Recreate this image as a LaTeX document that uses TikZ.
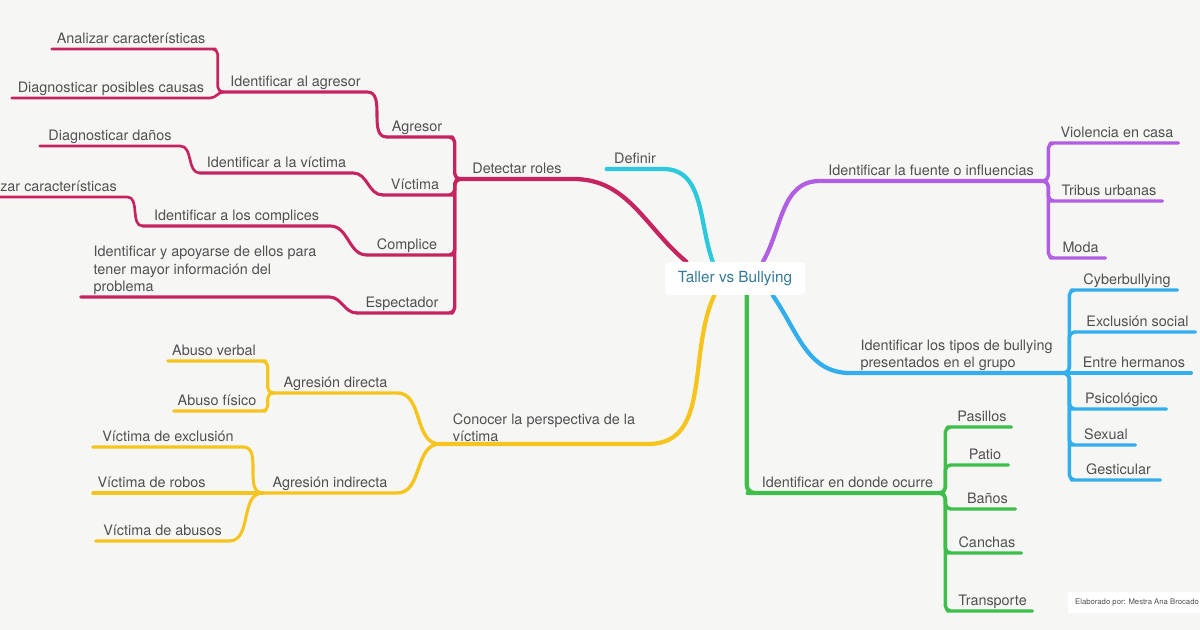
\documentclass[tikz,border=0pt]{standalone}
\usepackage{fontspec}
\setmainfont{TeX Gyre Heros}
\usetikzlibrary{backgrounds}

\definecolor{mmbg}{RGB}{246,247,245}
\definecolor{mmtext}{RGB}{80,80,80}
\definecolor{mmtitle}{RGB}{52,122,152}
\definecolor{mmred}{RGB}{198,36,96}
\definecolor{mmcyan}{RGB}{44,200,220}
\definecolor{mmpurple}{RGB}{178,94,226}
\definecolor{mmblue}{RGB}{50,174,236}
\definecolor{mmgreen}{RGB}{64,190,76}
\definecolor{mmyellow}{RGB}{246,196,30}

\begin{document}
\begin{tikzpicture}[
  x=0.75pt, y=-0.75pt,
  topic/.style = {
    anchor=south, inner xsep=0pt, inner ysep=1.5pt,
    text depth=2.5pt, text=mmtext,
    font=\fontsize{10.8}{13}\selectfont
  },
  lw/.style = {minimum width=#1*0.75pt},
  multi/.style = {topic, text depth={}, align=left},
  root/.style = {
    rectangle, rounded corners=3pt, fill=white,
    minimum width=105pt, minimum height=24.75pt,
    text=mmtitle, font=\fontsize{11.5}{14}\selectfont
  },
  credit/.style = {
    rectangle, fill=white, minimum width=103.5pt, minimum height=15.75pt,
    text=mmtext, font=\fontsize{5.8}{7}\selectfont
  },
  br/.style = {line cap=round, line join=round},
  lv1/.style = {br, line width=3.2pt},
  lv2/.style = {br, line width=2.6pt},
  lv3/.style = {br, line width=2.3pt},
  lv4/.style = {br, line width=2pt},
  fork/.style = {rounded corners=4pt}
]
\useasboundingbox (0,0) rectangle (1200,630);

% Centre
\node[root] (root) at (735,278.5) {Taller vs Bullying};

% Detectar roles
\node[topic, lw=112] (droles) at (517,179) {Detectar roles};
\node[topic, lw=60]  (agr)    at (417,137) {Agresor};
\node[topic, lw=64]  (vic)    at (415,195) {Víctima};
\node[topic, lw=80]  (comp)   at (407,255) {Complice};
\node[topic, lw=90]  (espec)  at (402,313) {Espectador};
\node[topic, lw=143] (idagr)  at (295.5,92) {Identificar al agresor};
\node[topic, lw=158] (analiza) at (131,49) {Analizar características};
\node[topic, lw=198] (diagc)  at (111,98) {Diagnosticar posibles causas};
\node[topic, lw=153] (idvic)  at (276.5,173) {Identificar a la víctima};
\node[topic, lw=140] (diagd)  at (110,146) {Diagnosticar daños};
\node[topic, lw=187] (idcomp) at (236.5,226) {Identificar a los complices};
\node[topic, lw=169] (analizb) at (42.5,197) {Analizar características};
\node[multi, lw=248] (idapoy) at (205,297)
  {Identificar y apoyarse de ellos para\\tener mayor información del\\problema};

% Definir
\node[topic, lw=56] (defin) at (635,169) {Definir};

% Fuente o influencias
\node[topic, lw=222] (fuente) at (931,181) {Identificar la fuente o influencias};
\node[topic, lw=122] (viol)   at (1117,143) {Violencia en casa};
\node[topic, lw=106] (tribus) at (1109,201) {Tribus urbanas};
\node[topic, lw=49]  (moda)   at (1080.5,258) {Moda};

% Tipos de bullying
\node[multi, lw=213] (tipos) at (956.5,373)
  {Identificar los tipos de bullying\\presentados en el grupo};
\node[topic, lw=100] (cyber)  at (1127,290) {Cyberbullying};
\node[topic, lw=115] (exclu)  at (1137.5,332) {Exclusión social};
\node[topic, lw=114] (herm)   at (1134,373) {Entre hermanos};
\node[topic, lw=89]  (psico)  at (1121.5,409) {Psicológico};
\node[topic, lw=58]  (sexual) at (1106,445) {Sexual};
\node[topic, lw=83]  (gestic) at (1118.5,480) {Gesticular};

% En donde ocurre
\node[topic, lw=183] (donde)  at (847.5,493) {Identificar en donde ocurre};
\node[topic, lw=58]  (pas)    at (982,427) {Pasillos};
\node[topic, lw=46]  (patio)  at (985,465) {Patio};
\node[topic, lw=55]  (banos)  at (987.5,509) {Baños};
\node[topic, lw=68]  (canch)  at (987,553) {Canchas};
\node[topic, lw=79]  (transp) at (992.5,611) {Transporte};

% Perspectiva de la victima
\node[multi, lw=208] (conocer) at (544,444)
  {Conocer la perspectiva de la\\víctima};
\node[topic, lw=123] (agdir)  at (335.5,393) {Agresión directa};
\node[topic, lw=134] (agind)  at (330,493) {Agresión indirecta};
\node[topic, lw=92]  (averb)  at (214,361) {Abuso verbal};
\node[topic, lw=86]  (afis)   at (217,411) {Abuso físico};
\node[topic, lw=150] (vexcl)  at (168,447) {Víctima de exclusión};
\node[topic, lw=117] (vrob)   at (151.5,493) {Víctima de robos};
\node[topic, lw=133] (vabus)  at (162.5,541) {Víctima de abusos};

\node[credit] (firma) at (1137,602.5) {Elaborado por: Mestra Ana Brocado};

\begin{scope}[on background layer]
  \fill[mmbg] (0,0) rectangle (1200,630);

  % red
  \draw[mmred, lv1] (root.161) to[out=140,in=0] (droles.south east) -- (droles.south west);
  \foreach \c in {agr,vic,comp,espec}
    \draw[mmred, lv2, fork] (droles.south west) -- ++(-6,0) |- (\c.south east) -- (\c.south west);
  \foreach \a/\b in {agr/idagr, vic/idvic, comp/idcomp, espec/idapoy}
    \draw[mmred, lv3] (\a.south west) to[out=180,in=0] (\b.south east) -- (\b.south west);
  \draw[mmred, lv4, fork] (idagr.south west) -- ++(-6,0) |- (analiza.south east) -- (analiza.south west);
  \foreach \a/\b in {idagr/diagc, idvic/diagd, idcomp/analizb}
    \draw[mmred, lv4] (\a.south west) to[out=180,in=0] (\b.south east) -- (\b.south west);

  % cyan
  \draw[mmcyan, lv1] (root.143) to[out=110,in=0] (defin.south east) -- (defin.south west);

  % purple
  \draw[mmpurple, lv1] (root.31) to[out=60,in=180] (fuente.south west) -- (fuente.south east);
  \foreach \c in {viol,tribus,moda}
    \draw[mmpurple, lv2, fork] (fuente.south east) -- ++(6,0) |- (\c.south west) -- (\c.south east);

  % blue
  \draw[mmblue, lv1] (root.336) to[out=-55,in=180] (tipos.south west) -- (tipos.south east);
  \foreach \c in {cyber,exclu,psico,sexual,gestic}
    \draw[mmblue, lv2, fork] (tipos.south east) -- ++(6,0) |- (\c.south west) -- (\c.south east);
  \draw[mmblue, lv2] (tipos.south east) -- (herm.south west) -- (herm.south east);

  % green
  \draw[mmgreen, lv1, rounded corners=6pt] (root.305) |- (donde.south west) -- (donde.south east);
  \foreach \c in {pas,patio,banos,canch,transp}
    \draw[mmgreen, lv2, fork] (donde.south east) -- ++(6,0) |- (\c.south west) -- (\c.south east);

  % yellow
  \draw[mmyellow, lv1] (root.219) to[out=245,in=0] (conocer.south east) -- (conocer.south west);
  \foreach \c in {agdir,agind}
    \draw[mmyellow, lv2] (conocer.south west) to[out=180,in=0] (\c.south east) -- (\c.south west);
  \foreach \c in {averb,afis}
    \draw[mmyellow, lv3, fork] (agdir.south west) -- ++(-6,0) |- (\c.south east) -- (\c.south west);
  \foreach \c in {vexcl,vabus}
    \draw[mmyellow, lv3] (agind.south west) to[out=180,in=0] (\c.south east) -- (\c.south west);
  \draw[mmyellow, lv3] (agind.south west) -- (vrob.south east) -- (vrob.south west);
\end{scope}
\end{tikzpicture}
\end{document}
